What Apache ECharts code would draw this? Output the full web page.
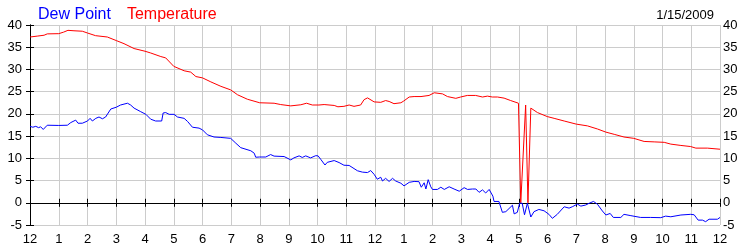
<!DOCTYPE html>
<html>
<head>
<meta charset="utf-8">
<script src="https://cdn.jsdelivr.net/npm/echarts@6/dist/echarts.min.js"></script>
<style>
html,body{margin:0;padding:0;background:#fff;}
#c{width:750px;height:250px;}
</style>
</head>
<body>
<div id="c"></div>
<script>
var dateLabel = "1/15/2009";
var seriesNames = ["Dew Point", "Temperature"];
var hourTickLabels = ["12","1","2","3","4","5","6","7","8","9","10","11","12","1","2","3","4","5","6","7","8","9","10","11","12"];

var tempHours = [0,0.25,0.49,0.6,1.0,1.17,1.32,1.53,1.82,2.0,2.28,2.69,3.0,3.27,3.62,4.0,4.2,4.55,4.72,5.0,5.36,5.59,5.77,6.0,6.29,6.64,6.98,7.22,7.56,7.99,8.49,8.72,9.07,9.42,9.62,9.82,10.05,10.23,10.58,10.71,10.92,11.1,11.27,11.5,11.62,11.74,11.97,12.2,12.37,12.49,12.66,12.9,13.0,13.19,13.36,13.6,13.88,14.06,14.35,14.52,14.81,14.98,15.21,15.5,15.74,15.91,16.08,16.26,16.49,16.72,16.99,17.03,17.07,17.24,17.32,17.42,17.65,17.99,18.23,18.58,19.0,19.39,19.74,20.03,20.32,20.66,21.0,21.36,21.71,22.06,22.29,22.64,22.98,23.16,23.56,24.0];
var tempVals = [37.3,37.5,37.7,38.0,38.05,38.4,38.8,38.7,38.6,38.2,37.6,37.3,36.5,35.8,34.7,34.1,33.7,32.9,32.6,30.7,29.7,29.4,28.4,28.1,27.2,26.2,25.4,24.3,23.3,22.5,22.4,22.1,21.8,22.05,22.4,22.0,22.0,22.1,21.9,21.6,21.7,22.0,21.7,22.0,23.2,23.6,22.7,22.6,23.0,22.8,22.3,22.5,22.9,23.8,23.9,23.9,24.15,24.75,24.5,23.9,23.5,23.8,24.15,24.15,23.8,24.0,23.8,23.8,23.55,23.0,22.4,22.3,0,22.0,0,21.3,20.3,19.4,19.0,18.4,17.7,17.3,16.6,15.9,15.4,14.8,14.5,13.8,13.7,13.6,13.2,12.9,12.65,12.3,12.3,12.05];

var dewHours = [0,0.1,0.2,0.3,0.37,0.46,0.6,1.0,1.3,1.42,1.59,1.67,1.82,2.0,2.09,2.17,2.29,2.4,2.52,2.63,2.81,3.0,3.15,3.39,3.5,3.62,3.85,4.03,4.2,4.37,4.58,4.63,4.72,4.84,5.01,5.13,5.36,5.48,5.65,5.88,6.0,6.17,6.4,6.64,6.98,7.16,7.33,7.68,7.8,7.85,7.99,8.2,8.37,8.49,8.84,9.07,9.18,9.36,9.47,9.59,9.76,9.94,10.02,10.11,10.26,10.34,10.58,10.75,10.92,11.1,11.39,11.56,11.62,11.74,11.85,11.97,12.08,12.2,12.26,12.37,12.49,12.61,12.72,12.9,13.01,13.19,13.36,13.53,13.61,13.71,13.77,13.85,13.94,14.0,14.17,14.29,14.41,14.58,14.75,14.93,15.1,15.22,15.39,15.51,15.62,15.74,15.85,15.97,16.1,16.14,16.31,16.43,16.55,16.78,16.84,16.95,17.03,17.12,17.2,17.3,17.42,17.53,17.7,17.88,18.05,18.17,18.34,18.58,18.75,18.86,19.04,19.16,19.33,19.45,19.6,19.74,19.91,20.03,20.18,20.29,20.55,20.66,20.9,21.24,21.59,21.94,22.11,22.29,22.64,22.98,23.1,23.24,23.39,23.5,23.62,23.91,24.0];
var dewVals = [17.2,17.0,17.2,16.9,17.1,16.5,17.45,17.4,17.45,18.05,18.6,17.9,17.9,18.4,19.0,18.4,19.0,19.3,18.9,19.3,21.1,21.5,22.0,22.4,22.0,21.3,20.5,19.9,18.8,18.4,18.4,20.2,20.3,19.9,19.9,19.3,19.0,18.3,17.0,16.8,16.4,15.3,14.8,14.7,14.5,13.4,12.4,11.7,11.15,10.25,10.3,10.3,10.85,10.5,10.4,9.65,10.1,10.55,10.2,10.55,10.1,10.6,10.55,9.8,8.5,9.1,9.5,9.05,8.45,8.4,7.2,6.9,7.25,6.8,7.25,6.4,5.3,5.75,4.9,5.5,4.8,5.5,4.9,4.4,3.8,4.6,4.8,4.75,3.5,4.5,3.1,5.2,3.6,3.0,3.0,3.5,3.0,3.6,3.1,2.6,3.4,3.0,3.1,3.1,2.35,2.9,2.2,3.0,1.5,0.3,0.3,-2.15,-2.0,-0.55,-2.5,-2.15,-0.1,-0.1,-2.7,-0.1,-3.2,-2.0,-1.5,-1.8,-2.6,-3.5,-2.6,-0.9,-1.2,-0.9,-0.3,-0.75,-0.5,-0.1,0.3,-0.35,-1.85,-2.75,-2.4,-3.3,-3.3,-2.6,-2.9,-3.3,-3.3,-3.35,-3.0,-3.15,-2.75,-2.6,-2.7,-3.9,-3.9,-4.25,-3.7,-3.7,-3.3];

function pairs(xs, ys){ var out=[]; for(var i=0;i<xs.length;i++) out.push([xs[i], ys[i]]); return out; }

var FONT = 'Liberation Sans, Arial, sans-serif';
var chart = echarts.init(document.getElementById('c'), null, {renderer:'canvas'});
var axisLine = {show:true, lineStyle:{color:'#000', width:1}};
var tick = {show:true, inside:true, length:4, lineStyle:{color:'#000'}};
var option = {
  animation:false,
  backgroundColor:'#fff',
  title:{text:dateLabel, right:31, top:4, textStyle:{fontFamily:FONT, fontSize:13, fontWeight:'normal', color:'#000'}},
  legend:{
    left:28, top:2, icon:'none', itemWidth:0, itemHeight:14, itemGap:11,
    textStyle:{fontFamily:FONT, fontSize:16},
    data:[{name:seriesNames[0], textStyle:{color:'#0000ff'}},{name:seriesNames[1], textStyle:{color:'#ff0000'}}]
  },
  grid:{left:30, right:30, top:25, bottom:25, containLabel:false},
  xAxis:[
    {type:'value', min:0, max:24, interval:1, position:'bottom',
     axisLine:axisLine, axisTick:tick,
     axisLabel:{fontFamily:FONT, fontSize:13, color:'#000', margin:8, formatter:function(v){return hourTickLabels[Math.round(v)];}},
     splitLine:{show:true, lineStyle:{color:'#cccccc', width:1}}},
    {type:'value', min:0, max:24, interval:1, position:'top',
     axisLine:axisLine, axisTick:tick, axisLabel:{show:false}, splitLine:{show:false}}
  ],
  yAxis:[
    {type:'value', min:-5, max:40, interval:5, position:'left',
     axisLine:axisLine, axisTick:tick,
     axisLabel:{fontFamily:FONT, fontSize:13, color:'#000', margin:8},
     splitLine:{show:true, lineStyle:{color:'#cccccc', width:1}}},
    {type:'value', min:-5, max:40, interval:5, position:'right',
     axisLine:axisLine, axisTick:tick,
     axisLabel:{fontFamily:FONT, fontSize:13, color:'#000', margin:3},
     splitLine:{show:false}}
  ],
  series:[
    {name:seriesNames[0], type:'line', data:pairs(dewHours, dewVals), showSymbol:false, symbol:'none',
     lineStyle:{color:'#0000ff', width:1}, itemStyle:{color:'#0000ff'}, z:3},
    {name:seriesNames[1], type:'line', data:pairs(tempHours, tempVals), showSymbol:false, symbol:'none',
     lineStyle:{color:'#ff0000', width:1}, itemStyle:{color:'#ff0000'}, z:2}
  ]
};
chart.setOption(option);
</script>
</body>
</html>
